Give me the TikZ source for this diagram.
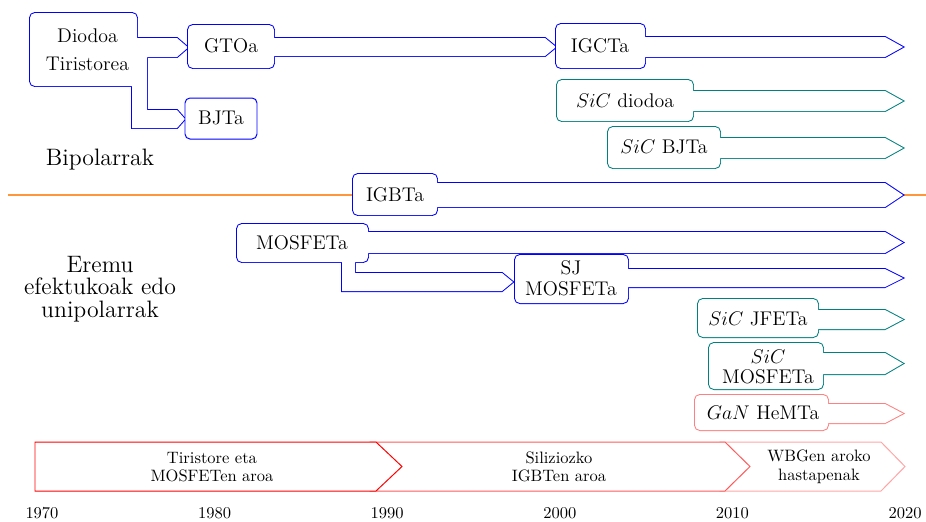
\documentclass[tikz,border=0pt]{standalone}
\definecolor{bluec}{RGB}{0,0,255}
\definecolor{tealc}{RGB}{0,128,128}
\definecolor{ganc}{RGB}{255,128,128}
\definecolor{orangec}{RGB}{255,150,60}
\definecolor{erab}{RGB}{255,0,0}
\definecolor{erbb}{RGB}{255,90,90}
\definecolor{ercb}{RGB}{255,165,165}
\newcommand\ushape[3]{%
 \draw[#1,line width=1.2pt,rounded corners=3pt] #2;
 \draw[#1,line width=1.2pt] #3;
 \fill[white,rounded corners=3pt] #2;
 \fill[white] #3;}
\tikzset{
 lbl/.style={font=\large, inner sep=0pt},
 lbltwo/.style={font=\fontsize{12pt}{12.8pt}\selectfont, align=center, inner sep=0pt},
 eratxt/.style={font=\fontsize{10pt}{11.2pt}\selectfont, align=center, inner sep=0pt},
 erabar/.style={fill=white, line width=0.6pt},
 yearlbl/.style={inner sep=0pt},
 sidelbl/.style={font=\fontsize{14.4pt}{13.6pt}\selectfont, align=center, inner sep=0pt}
}
\begin{document}
\begin{tikzpicture}[x=0.6061pt,y=-0.6061pt]
\useasboundingbox (0,0) rectangle (926,521);

% Diodoa / Tiristorea
\ushape{bluec}{(30,13) rectangle (137,86)}{(130,38) -- (177,38) -- (188,47.5) -- (177,57) -- (130,57) -- cycle (132,50) -- (147,50) -- (147,128) -- (132,128) -- cycle (132,110) -- (177,110) -- (185,119) -- (177,128) -- (132,128) -- cycle}
\node[lbltwo, font=\fontsize{12pt}{17.3pt}\selectfont] (diod) at (87.5,49.5) {Diodoa\\Tiristorea};

% GTOa
\ushape{bluec}{(188,25) rectangle (274,68)}{(268,38) -- (545,38) -- (556,47) -- (545,56) -- (268,56) -- cycle}
\node[lbl] (gto) at (231,46) {GTOa};

% BJTa
\draw[bluec, line width=0.6pt, rounded corners=3pt, fill=white] (185,98) rectangle (257,139);
\node[lbl] (bjt) at (221,118) {BJTa};

% IGCTa
\ushape{bluec}{(556,24) rectangle (645,68)}{(638,37) -- (885,37) -- (903,47) -- (885,57) -- (638,57) -- cycle}
\node[lbl] (igct) at (600,46) {IGCTa};

% SiC diodoa
\ushape{tealc}{(557,80) rectangle (693,121)}{(686,91) -- (885,91) -- (903,101) -- (885,111) -- (686,111) -- cycle}
\node[lbl] (sicd) at (625,101) {$SiC$ diodoa};

% SiC BJTa
\ushape{tealc}{(608,127) rectangle (720,168)}{(713,138) -- (885,138) -- (903,148) -- (885,158) -- (713,158) -- cycle}
\node[lbl] (sicb) at (664,147) {$SiC$ BJTa};

% Orange separator
\coordinate (sepl) at (8,195);
\coordinate (sepr) at (926,195);
\draw[orangec, line width=1.8pt] (sepl) -- (sepr);

% IGBTa
\ushape{bluec}{(353,174) rectangle (437,215)}{(430,183) -- (885,183) -- (903,195) -- (885,207) -- (430,207) -- cycle}
\node[lbl] (igbt) at (395,195) {IGBTa};

% MOSFETa
\ushape{bluec}{(237,224) rectangle (368,262)}{(360,232) -- (885,232) -- (903,242.5) -- (885,253) -- (360,253) -- cycle (342,255) -- (355,255) -- (355,291) -- (342,291) -- cycle (342,273) -- (502,273) -- (513,282) -- (502,291) -- (342,291) -- cycle}
\node[lbl] (mos) at (302,243) {MOSFETa};

% SJ MOSFETa
\ushape{bluec}{(515,255) rectangle (628,303)}{(620,269) -- (885,269) -- (903,278) -- (885,287) -- (620,287) -- cycle}
\node[lbltwo] (sj) at (571,278) {SJ\\MOSFETa};

% SiC JFETa
\ushape{tealc}{(698,299) rectangle (818,337)}{(810,310) -- (885,310) -- (903,319.5) -- (885,329) -- (810,329) -- cycle}
\node[lbl] (sicj) at (758,319) {$SiC$ JFETa};

% SiC MOSFETa
\ushape{tealc}{(709,343) rectangle (823,389)}{(815,353) -- (885,353) -- (903,363.5) -- (885,374) -- (815,374) -- cycle}
\node[lbltwo, font=\fontsize{12pt}{12.1pt}\selectfont] (sicm) at (768,367) {$SiC$\\MOSFETa};

% GaN HeMTa
\ushape{ganc}{(695,395) rectangle (828,430)}{(820,404) -- (885,404) -- (903,413.5) -- (885,423) -- (820,423) -- cycle}
\node[lbl] (gan) at (763,413) {$GaN$ HeMTa};

% Side labels
\node[font=\Large, inner sep=0pt] (bip) at (100,160) {Bipolarrak};
\node[sidelbl] (ere) at (100,289) {Eremu\\efektukoak edo\\unipolarrak};

% Era bars
\draw[erabar, draw=ercb] (720,442) -- (881,442) -- (905,466.5) -- (881,491) -- (720,491) -- cycle;
\draw[erabar, draw=erbb] (370,442) -- (725,442) -- (750,466.5) -- (725,491) -- (370,491) -- cycle;
\draw[erabar, draw=erab] (35,442) -- (376,442) -- (402,466.5) -- (376,491) -- (35,491) -- cycle;
\node[eratxt] (era1) at (212,467) {Tiristore eta\\MOSFETen aroa};
\node[eratxt] (era2) at (559,467) {Siliziozko\\IGBTen aroa};
\node[eratxt] (era3) at (819,467) {WBGen aroko\\hastapenak};

% Years
\node[yearlbl] (y1970) at (42,513) {1970};
\node[yearlbl] (y1980) at (214.6,513) {1980};
\node[yearlbl] (y1990) at (387.2,513) {1990};
\node[yearlbl] (y2000) at (559.8,513) {2000};
\node[yearlbl] (y2010) at (732.4,513) {2010};
\node[yearlbl] (y2020) at (905,513) {2020};
\end{tikzpicture}
\end{document}
